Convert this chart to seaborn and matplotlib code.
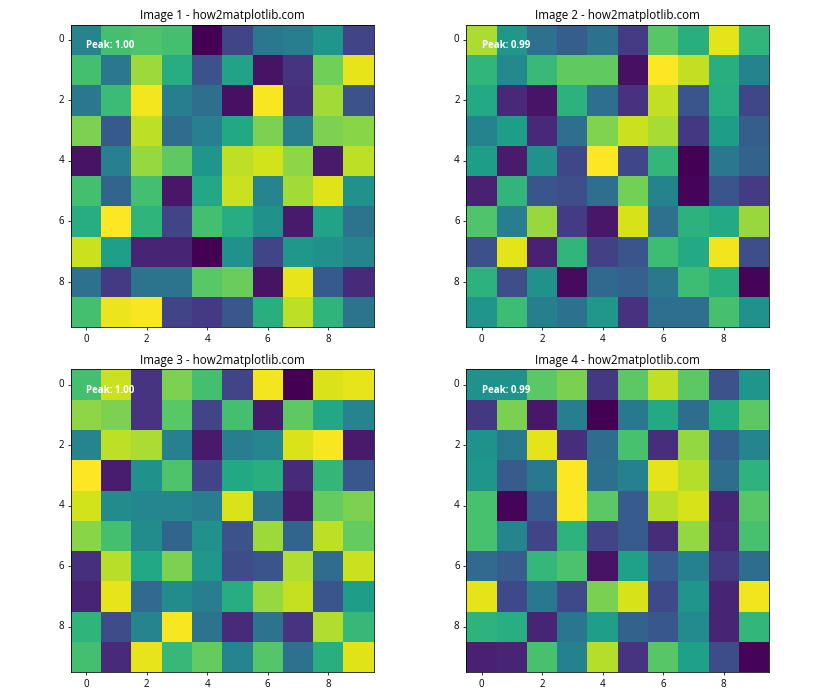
import numpy as np
import matplotlib
matplotlib.use('Agg')
import matplotlib.pyplot as plt
import seaborn as sns

# Values (row by row)
image1 = [
    [0.45, 0.70, 0.72, 0.70, 0.00, 0.20, 0.40, 0.42, 0.52, 0.20],
    [0.70, 0.40, 0.85, 0.62, 0.25, 0.58, 0.05, 0.15, 0.78, 0.96],
    [0.40, 0.68, 0.98, 0.42, 0.36, 0.04, 0.99, 0.13, 0.86, 0.25],
    [0.80, 0.28, 0.90, 0.35, 0.43, 0.60, 0.80, 0.42, 0.80, 0.82],
    [0.05, 0.43, 0.84, 0.75, 0.52, 0.90, 0.93, 0.83, 0.07, 0.90],
    [0.70, 0.32, 0.70, 0.06, 0.60, 0.92, 0.45, 0.86, 0.95, 0.50],
    [0.62, 0.998, 0.65, 0.20, 0.70, 0.62, 0.50, 0.07, 0.58, 0.38],
    [0.92, 0.56, 0.10, 0.10, 0.00, 0.50, 0.20, 0.53, 0.50, 0.45],
    [0.37, 0.17, 0.38, 0.38, 0.74, 0.77, 0.05, 0.96, 0.28, 0.12],
    [0.70, 0.97, 0.99, 0.20, 0.17, 0.27, 0.63, 0.90, 0.65, 0.38],
]
image2 = [
    [0.87, 0.53, 0.37, 0.30, 0.38, 0.18, 0.73, 0.63, 0.95, 0.65],
    [0.65, 0.47, 0.67, 0.75, 0.75, 0.05, 0.99, 0.90, 0.63, 0.45],
    [0.60, 0.12, 0.06, 0.64, 0.36, 0.15, 0.90, 0.27, 0.62, 0.22],
    [0.45, 0.55, 0.12, 0.36, 0.80, 0.91, 0.86, 0.17, 0.55, 0.30],
    [0.55, 0.08, 0.50, 0.22, 0.99, 0.22, 0.66, 0.01, 0.40, 0.32],
    [0.10, 0.65, 0.27, 0.24, 0.36, 0.78, 0.45, 0.02, 0.27, 0.18],
    [0.72, 0.42, 0.84, 0.18, 0.07, 0.93, 0.37, 0.64, 0.60, 0.84],
    [0.25, 0.95, 0.10, 0.65, 0.20, 0.27, 0.68, 0.60, 0.97, 0.24],
    [0.64, 0.24, 0.50, 0.04, 0.34, 0.31, 0.40, 0.68, 0.63, 0.02],
    [0.52, 0.68, 0.43, 0.38, 0.53, 0.15, 0.36, 0.36, 0.70, 0.50],
]
image3 = [
    [0.70, 0.92, 0.15, 0.80, 0.70, 0.20, 0.98, 0.00, 0.94, 0.96],
    [0.83, 0.80, 0.15, 0.74, 0.20, 0.70, 0.07, 0.75, 0.60, 0.45],
    [0.45, 0.90, 0.87, 0.43, 0.07, 0.42, 0.46, 0.94, 0.99, 0.07],
    [0.998, 0.08, 0.50, 0.72, 0.20, 0.60, 0.63, 0.12, 0.66, 0.27],
    [0.93, 0.48, 0.46, 0.46, 0.42, 0.94, 0.38, 0.07, 0.76, 0.80],
    [0.82, 0.70, 0.48, 0.32, 0.50, 0.25, 0.85, 0.32, 0.90, 0.76],
    [0.14, 0.89, 0.60, 0.80, 0.53, 0.23, 0.26, 0.88, 0.35, 0.92],
    [0.10, 0.96, 0.34, 0.48, 0.42, 0.62, 0.84, 0.91, 0.26, 0.55],
    [0.65, 0.23, 0.45, 0.99, 0.38, 0.12, 0.38, 0.15, 0.88, 0.67],
    [0.70, 0.12, 0.96, 0.67, 0.76, 0.45, 0.73, 0.37, 0.63, 0.95],
]
image4 = [
    [0.50, 0.50, 0.74, 0.79, 0.16, 0.74, 0.90, 0.74, 0.25, 0.52],
    [0.16, 0.79, 0.06, 0.42, 0.00, 0.40, 0.60, 0.35, 0.60, 0.74],
    [0.50, 0.40, 0.95, 0.13, 0.35, 0.70, 0.13, 0.83, 0.30, 0.45],
    [0.52, 0.28, 0.40, 0.99, 0.36, 0.43, 0.95, 0.88, 0.35, 0.64],
    [0.70, 0.01, 0.28, 0.985, 0.74, 0.28, 0.88, 0.93, 0.10, 0.73],
    [0.70, 0.45, 0.20, 0.64, 0.20, 0.28, 0.12, 0.83, 0.11, 0.70],
    [0.34, 0.29, 0.66, 0.71, 0.05, 0.56, 0.29, 0.43, 0.17, 0.35],
    [0.95, 0.22, 0.40, 0.22, 0.79, 0.93, 0.22, 0.52, 0.10, 0.97],
    [0.64, 0.62, 0.10, 0.39, 0.55, 0.31, 0.27, 0.47, 0.10, 0.65],
    [0.09, 0.10, 0.70, 0.43, 0.88, 0.15, 0.73, 0.56, 0.23, 0.01],
]
images = [image1, image2, image3, image4]
titles = [f'Image {i} - how2matplotlib.com' for i in range(1, 5)]

plt.rcParams['font.family'] = ['Open Sans', 'DejaVu Sans']

fig, axs = plt.subplots(2, 2, figsize=(12, 10))

for ax, img, title in zip(axs.flat, images, titles):
    data = np.array(img)
    sns.heatmap(data, ax=ax, cmap='viridis', cbar=False, square=True)
    for spine in ax.spines.values():
        spine.set_visible(True)
        spine.set_color('black')
    ticks = np.arange(0, 10, 2)
    ax.set_xticks(ticks + 0.5)
    ax.set_xticklabels(ticks, rotation=0)
    ax.set_yticks(ticks + 0.5)
    ax.set_yticklabels(ticks, rotation=0)
    ax.tick_params(length=3.5)
    ax.set_title(title, fontsize=12)
    ax.text(0.05, 0.95, f'Peak: {data.max():.2f}', transform=ax.transAxes,
            color='white', fontweight='bold', va='top', fontsize=10)

plt.tight_layout()
plt.savefig('out.png', dpi=70)
